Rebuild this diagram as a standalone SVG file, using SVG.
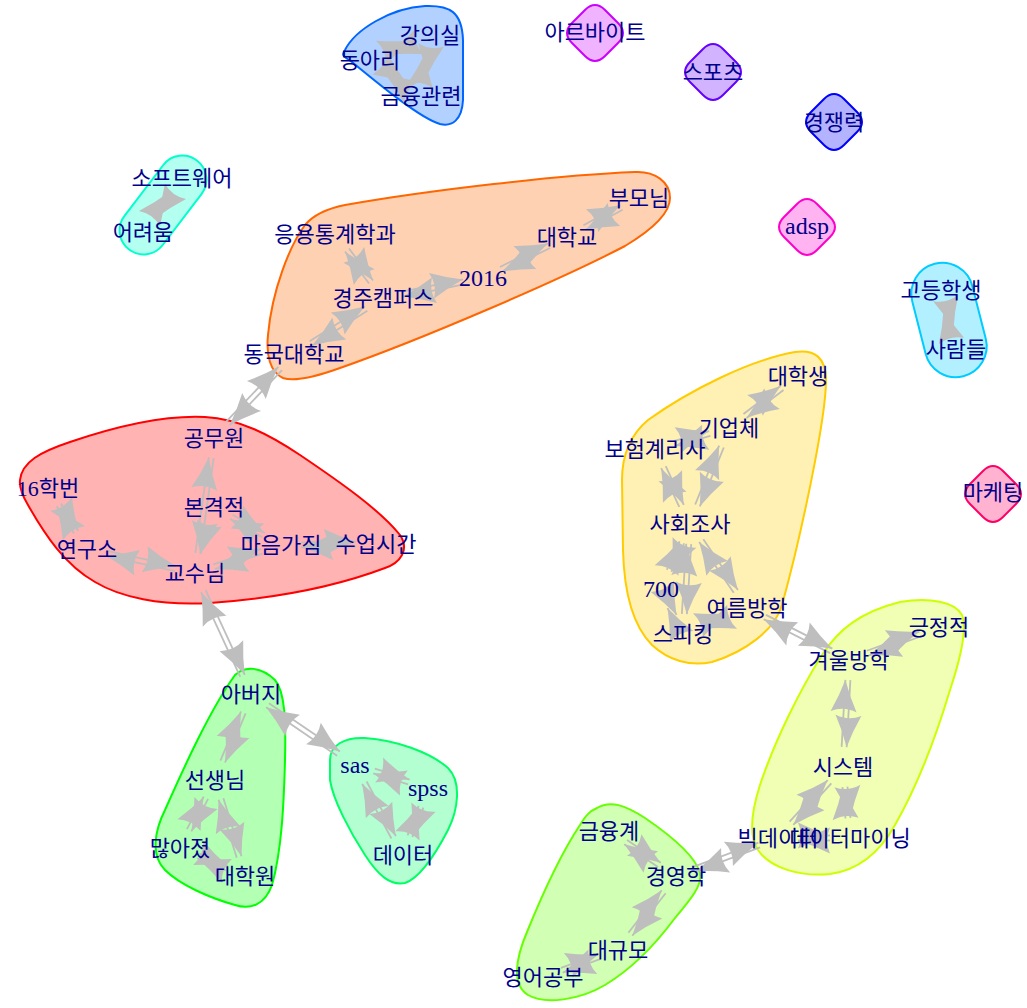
<svg xmlns="http://www.w3.org/2000/svg" xmlns:xlink="http://www.w3.org/1999/xlink" width="1027" height="1008" viewBox="0 0 1027 1008">
  <style>
    .hull { stroke-width: 2; }
    #edges path { fill: none; stroke: #BEBEBE; stroke-width: 1.8; marker-end: url(#ah); }
    .node text { font-family: "Liberation Serif", "Noto Sans CJK KR", serif; font-size: 22px; fill: #00008B; text-anchor: middle; }
    .node text.latin { font-size: 24px; }
  </style>
  <defs>
    <marker id="ah" viewBox="-34 -16 36 32" refX="0" refY="0" markerWidth="36" markerHeight="32" markerUnits="userSpaceOnUse" orient="auto" overflow="visible">
      <path d="M0,0 Q-16,-5 -32,-13 Q-26,0 -32,13 Q-16,5 0,0 Z" fill="#BEBEBE"/>
    </marker>
    <path id="blob" d="M-10,-23 Q0,-33 10,-23 L23,-10 Q33,0 23,10 L10,23 Q0,33 -10,23 L-23,10 Q-33,0 -23,-10 Z"/>
  </defs>

  <rect width="1027" height="1008" fill="#FFFFFF"/>

  <!-- community outlines -->
  <g id="groups">
    <path class="hull" fill="#B3D1FF" stroke="#0066FF" d="M345,50 C355,30 390,8 425,6 C450,5 462,12 463,40 L463,100 C462,120 452,127 440,124 C420,118 380,85 352,62 C343,56 341,55 345,50 Z"/>
    <rect class="hull" fill="#B3FFF0" stroke="#00FFCC" x="-56" y="-24" width="112" height="48" rx="24" transform="translate(163 205) rotate(-52.7)"/>
    <path class="hull" fill="#FFD1B3" stroke="#FF6600" d="M268,335 C272,290 290,245 305,225 C315,213 330,208 345,205 C430,190 560,175 635,172 C655,171 670,182 670,198 C670,212 655,228 625,246 C560,280 420,340 340,368 C315,377 295,382 283,378 C270,372 266,355 268,335 Z"/>
    <path class="hull" fill="#FFB3B3" stroke="#FF0000" d="M20,480 C22,462 40,452 70,442 C120,425 165,415 205,417 C240,419 270,435 300,455 C340,482 380,510 400,535 C410,550 400,563 385,568 C340,585 280,598 210,603 C160,606 120,597 95,582 C65,565 45,535 28,505 C22,495 19,488 20,480 Z"/>
    <path class="hull" fill="#FFF0B3" stroke="#FFCC00" d="M622,480 C622,455 630,435 648,420 C690,390 750,360 795,352 C815,349 826,358 826,380 C826,420 800,540 782,605 C775,630 745,652 712,662 C690,667 668,660 652,645 C632,625 624,590 623,550 Z"/>
    <path class="hull" fill="#B3FFB3" stroke="#00FF00" d="M235,675 C245,665 262,667 275,680 C285,692 286,720 285,760 C284,800 282,850 272,885 C265,905 250,910 235,905 C210,898 180,885 165,870 C150,855 155,830 165,810 C185,765 210,710 235,675 Z"/>
    <path class="hull" fill="#B3FFD1" stroke="#00FF66" d="M330,760 C330,745 345,737 365,738 C395,740 430,752 448,768 C462,782 458,810 448,830 C435,855 420,878 405,883 C390,886 378,875 365,855 C350,832 333,800 330,780 Z"/>
    <path class="hull" fill="#F0FFB3" stroke="#CCFF00" d="M900,602 C930,597 955,602 962,615 C968,630 960,660 950,690 C935,740 915,790 895,825 C880,852 860,870 830,874 C800,877 770,868 758,850 C748,835 752,810 760,785 C775,740 800,690 822,655 C838,630 860,612 900,602 Z"/>
    <path class="hull" fill="#D1FFB3" stroke="#66FF00" d="M597,808 C610,800 625,805 645,818 C670,835 695,855 700,873 C703,885 690,900 675,918 C655,945 630,970 605,985 C580,1000 545,1005 528,995 C512,985 515,960 527,932 C540,900 560,855 580,825 C586,815 590,811 597,808 Z"/>
    <rect class="hull" fill="#B3F0FF" stroke="#00CCFF" x="-58" y="-31" width="116" height="62" rx="31" transform="translate(949 320) rotate(75.7)"/>
    <use class="hull" href="#blob" x="595" y="33" fill="#F0B3FF" stroke="#CC00FF"/>
    <use class="hull" href="#blob" x="713" y="72" fill="#D1B3FF" stroke="#6600FF"/>
    <use class="hull" href="#blob" x="834" y="122" fill="#B3B3FF" stroke="#0000FF"/>
    <use class="hull" href="#blob" x="807" y="227" fill="#FFB3F0" stroke="#FF00CC"/>
    <use class="hull" href="#blob" x="993" y="494" fill="#FFB3D1" stroke="#FF0066"/>
  </g>

  <!-- directed edges: each pair drawn along its own axis, both directions side by side -->
  <g id="edges">
    <g transform="translate(370 60) rotate(-22.6)"><path d="M20 -2.5H45"/><path d="M45 2.5H20"/></g>
    <g transform="translate(430 35) rotate(98.4)"><path d="M20 -2.5H41.7"/><path d="M41.7 2.5H20"/></g>
    <g transform="translate(370 60) rotate(35.2)"><path d="M20 -2.5H42.4"/><path d="M42.4 2.5H20"/></g>
    <g transform="translate(143 232) rotate(-54.2)"><path d="M20 -2.5H46.6"/><path d="M46.6 2.5H20"/></g>
    <g transform="translate(941 290) rotate(75.7)"><path d="M20 -2.5H40.9"/><path d="M40.9 2.5H20"/></g>
    <g transform="translate(335 234) rotate(53.1)"><path d="M20 -2.5H60"/><path d="M60 2.5H20"/></g>
    <g transform="translate(383 298) rotate(-11.3)"><path d="M20 -2.5H82"/><path d="M82 2.5H20"/></g>
    <g transform="translate(483 278) rotate(-26)"><path d="M20 -2.5H73.5"/><path d="M73.5 2.5H20"/></g>
    <g transform="translate(567 237) rotate(-28.4)"><path d="M20 -2.5H61.9"/><path d="M61.9 2.5H20"/></g>
    <g transform="translate(294 354) rotate(-32.2)"><path d="M20 -2.5H85.2"/><path d="M85.2 2.5H20"/></g>
    <g transform="translate(214 438) rotate(-46.4)"><path d="M20 -2.5H96"/><path d="M96 2.5H20"/></g>
    <g transform="translate(214 438) rotate(98)"><path d="M20 -2.5H116.3"/><path d="M116.3 2.5H20"/></g>
    <g transform="translate(214 507) rotate(29.6)"><path d="M20 -2.5H57"/><path d="M57 2.5H20"/></g>
    <g transform="translate(214 507) rotate(106.1)"><path d="M20 0H48.7"/></g>
    <g transform="translate(195 573) rotate(-18)"><path d="M20 -2.5H70.4"/><path d="M70.4 2.5H20"/></g>
    <g transform="translate(281 545) rotate(-0.6)"><path d="M20 -2.5H75"/><path d="M75 2.5H20"/></g>
    <g transform="translate(87 549) rotate(12.5)"><path d="M20 -2.5H90.6"/><path d="M90.6 2.5H20"/></g>
    <g transform="translate(48 488) rotate(57.4)"><path d="M20 -2.5H52.4"/><path d="M52.4 2.5H20"/></g>
    <g transform="translate(195 573) rotate(65.2)"><path d="M20 -2.5H113.3"/><path d="M113.3 2.5H20"/></g>
    <g transform="translate(251 694) rotate(112.7)"><path d="M20 -2.5H73.2"/><path d="M73.2 2.5H20"/></g>
    <g transform="translate(215 780) rotate(117.2)"><path d="M20 -2.5H56.5"/><path d="M56.5 2.5H20"/></g>
    <g transform="translate(215 780) rotate(72.6)"><path d="M20 -2.5H80.6"/><path d="M80.6 2.5H20"/></g>
    <g transform="translate(180 848) rotate(23.3)"><path d="M20 -2.5H50.8"/><path d="M50.8 2.5H20"/></g>
    <g transform="translate(251 694) rotate(34.3)"><path d="M20 -2.5H105.9"/><path d="M105.9 2.5H20"/></g>
    <g transform="translate(355 765) rotate(17.5)"><path d="M20 -2.5H56.5"/><path d="M56.5 2.5H20"/></g>
    <g transform="translate(355 765) rotate(61.9)"><path d="M20 -2.5H82"/><path d="M82 2.5H20"/></g>
    <g transform="translate(428 788) rotate(110.5)"><path d="M20 -2.5H51.5"/><path d="M51.5 2.5H20"/></g>
    <g transform="translate(729 428) rotate(-37)"><path d="M20 -2.5H66.4"/><path d="M66.4 2.5H20"/></g>
    <g transform="translate(655 449) rotate(-15.8)"><path d="M20 -2.5H56.9"/><path d="M56.9 2.5H20"/></g>
    <g transform="translate(690 524) rotate(-67.9)"><path d="M20 -2.5H83.6"/><path d="M83.6 2.5H20"/></g>
    <g transform="translate(655 449) rotate(65)"><path d="M20 -2.5H62.8"/><path d="M62.8 2.5H20"/></g>
    <g transform="translate(690 524) rotate(114)"><path d="M20 -2.5H51.2"/><path d="M51.2 2.5H20"/></g>
    <g transform="translate(690 524) rotate(93.6)"><path d="M20 -2.5H90.2"/><path d="M90.2 2.5H20"/></g>
    <g transform="translate(690 524) rotate(55.8)"><path d="M20 -2.5H81.5"/><path d="M81.5 2.5H20"/></g>
    <g transform="translate(661 589) rotate(63.9)"><path d="M20 -2.5H30.1"/><path d="M30.1 2.5H20"/></g>
    <g transform="translate(683 634) rotate(-22.1)"><path d="M20 -2.5H49.1"/><path d="M49.1 2.5H20"/></g>
    <g transform="translate(747 608) rotate(27)"><path d="M20 -2.5H94.5"/><path d="M94.5 2.5H20"/></g>
    <g transform="translate(849 660) rotate(-20.1)"><path d="M20 -2.5H75.9"/><path d="M75.9 2.5H20"/></g>
    <g transform="translate(849 660) rotate(93.2)"><path d="M20 -2.5H87.2"/><path d="M87.2 2.5H20"/></g>
    <g transform="translate(843 767) rotate(132.5)"><path d="M20 -2.5H76.3"/><path d="M76.3 2.5H20"/></g>
    <g transform="translate(843 767) rotate(84.4)"><path d="M20 -2.5H51.3"/><path d="M51.3 2.5H20"/></g>
    <g transform="translate(778 838) rotate(0)"><path d="M20 -2.5H52"/><path d="M52 2.5H20"/></g>
    <g transform="translate(676 876) rotate(-20.4)"><path d="M20 -2.5H88.8"/><path d="M88.8 2.5H20"/></g>
    <g transform="translate(609 831) rotate(33.9)"><path d="M20 -2.5H60.7"/><path d="M60.7 2.5H20"/></g>
    <g transform="translate(676 876) rotate(128.1)"><path d="M20 -2.5H74"/><path d="M74 2.5H20"/></g>
    <g transform="translate(618 950) rotate(160.2)"><path d="M20 -2.5H59.7"/><path d="M59.7 2.5H20"/></g>
  </g>

  <!-- vertex labels -->
  <g id="n-lecture-room" class="node"><text x="430" y="43">강의실</text></g>
  <g id="n-club" class="node"><text x="370" y="68">동아리</text></g>
  <g id="n-finance-related" class="node"><text x="421" y="104">금융관련</text></g>
  <g id="n-part-time" class="node"><text x="595" y="40">아르바이트</text></g>
  <g id="n-sports" class="node"><text x="713" y="80">스포츠</text></g>
  <g id="n-competitiveness" class="node"><text x="834" y="130">경쟁력</text></g>
  <g id="n-software" class="node"><text x="182" y="186">소프트웨어</text></g>
  <g id="n-difficulty" class="node"><text x="143" y="240">어려움</text></g>
  <g id="n-applied-stats" class="node"><text x="335" y="242">응용통계학과</text></g>
  <g id="n-gyeongju-campus" class="node"><text x="383" y="306">경주캠퍼스</text></g>
  <g id="n-2016" class="node"><text class="latin" x="483" y="286">2016</text></g>
  <g id="n-university" class="node"><text x="567" y="245">대학교</text></g>
  <g id="n-parents" class="node"><text x="639" y="206">부모님</text></g>
  <g id="n-dongguk" class="node"><text x="294" y="362">동국대학교</text></g>
  <g id="n-adsp" class="node"><text class="latin" x="807" y="234">adsp</text></g>
  <g id="n-high-schooler" class="node"><text x="941" y="298">고등학생</text></g>
  <g id="n-people" class="node"><text x="956" y="357">사람들</text></g>
  <g id="n-marketing" class="node"><text x="993" y="500">마케팅</text></g>
  <g id="n-undergrad" class="node"><text x="798" y="384">대학생</text></g>
  <g id="n-company" class="node"><text x="729" y="436">기업체</text></g>
  <g id="n-actuary" class="node"><text x="655" y="457">보험계리사</text></g>
  <g id="n-social-survey" class="node"><text x="690" y="532">사회조사</text></g>
  <g id="n-700" class="node"><text class="latin" x="661" y="597">700</text></g>
  <g id="n-summer-break" class="node"><text x="747" y="616">여름방학</text></g>
  <g id="n-speaking" class="node"><text x="683" y="642">스피킹</text></g>
  <g id="n-civil-servant" class="node"><text x="214" y="446">공무원</text></g>
  <g id="n-class-16" class="node"><text x="48" y="496">16학번</text></g>
  <g id="n-serious" class="node"><text x="214" y="515">본격적</text></g>
  <g id="n-mindset" class="node"><text x="281" y="553">마음가짐</text></g>
  <g id="n-class-time" class="node"><text x="376" y="552">수업시간</text></g>
  <g id="n-institute" class="node"><text x="87" y="557">연구소</text></g>
  <g id="n-professor" class="node"><text x="195" y="581">교수님</text></g>
  <g id="n-father" class="node"><text x="251" y="702">아버지</text></g>
  <g id="n-teacher" class="node"><text x="215" y="788">선생님</text></g>
  <g id="n-increased" class="node"><text x="180" y="856">많아졌</text></g>
  <g id="n-grad-school" class="node"><text x="245" y="884">대학원</text></g>
  <g id="n-sas" class="node"><text class="latin" x="355" y="773">sas</text></g>
  <g id="n-spss" class="node"><text class="latin" x="428" y="796">spss</text></g>
  <g id="n-data" class="node"><text x="403" y="863">데이터</text></g>
  <g id="n-winter-break" class="node"><text x="849" y="668">겨울방학</text></g>
  <g id="n-positive" class="node"><text x="939" y="635">긍정적</text></g>
  <g id="n-system" class="node"><text x="843" y="775">시스템</text></g>
  <g id="n-big-data" class="node"><text x="778" y="846">빅데이터</text></g>
  <g id="n-data-mining" class="node"><text x="850" y="846">데이터마이닝</text></g>
  <g id="n-finance-sector" class="node"><text x="609" y="839">금융계</text></g>
  <g id="n-business" class="node"><text x="676" y="884">경영학</text></g>
  <g id="n-large-scale" class="node"><text x="618" y="958">대규모</text></g>
  <g id="n-english-study" class="node"><text x="543" y="985">영어공부</text></g>
</svg>
